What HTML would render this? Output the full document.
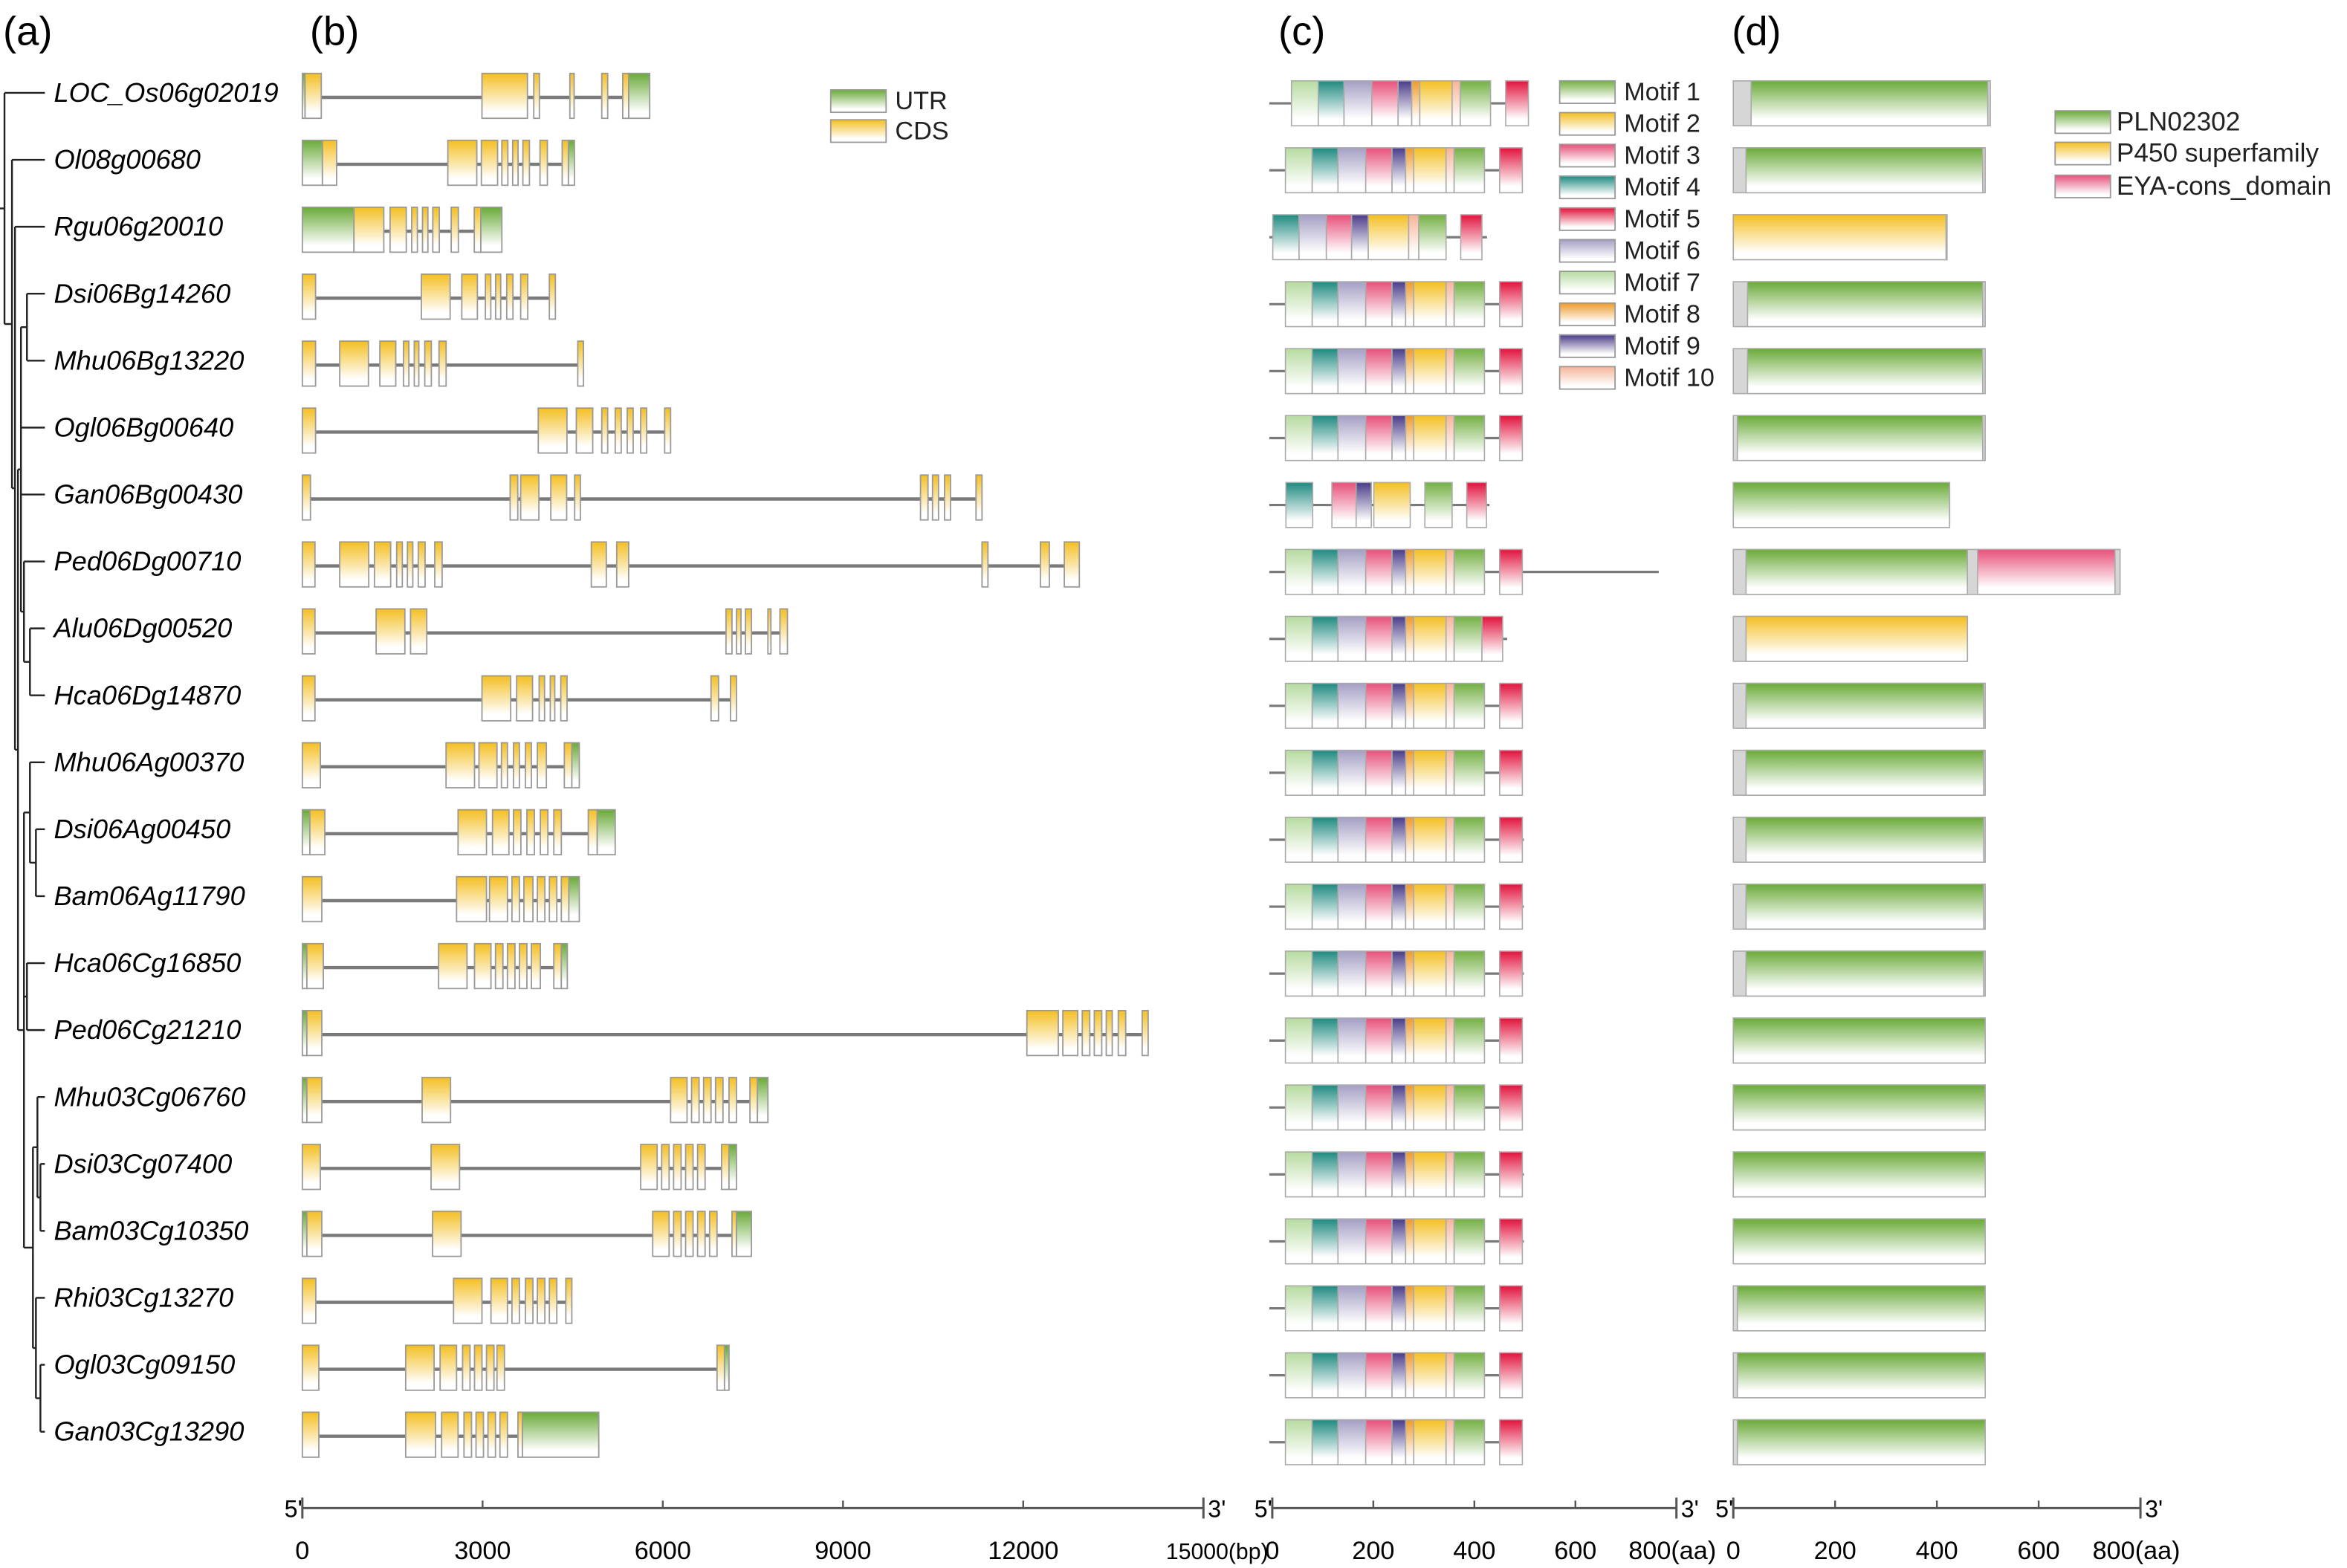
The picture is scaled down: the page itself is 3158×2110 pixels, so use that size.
<!DOCTYPE html>
<html><head><meta charset="utf-8">
<style>
html,body{margin:0;padding:0;background:#fff;}
svg{display:block;}
text{font-family:"Liberation Sans",Arial,sans-serif;}
</style></head>
<body>
<svg id="fig" xmlns="http://www.w3.org/2000/svg" width="3158" height="2110" viewBox="0 0 1568 1047" preserveAspectRatio="none">
<defs id="defs"></defs>
<g id="titles">
<text x="2" y="30" font-size="27">(a)</text>
<text x="207" y="30" font-size="27">(b)</text>
<text x="854" y="30" font-size="27">(c)</text>
<text x="1157" y="30" font-size="27">(d)</text>
</g>
<g id="tree"></g>
<g id="labels"></g>
<g id="genes"></g>
<g id="motifs"></g>
<g id="domains"></g>
<g id="legends"></g>
<g id="axes"></g>
</svg>
<script>
const geneNames=["LOC_Os06g02019","Ol08g00680","Rgu06g20010","Dsi06Bg14260","Mhu06Bg13220","Ogl06Bg00640","Gan06Bg00430","Ped06Dg00710","Alu06Dg00520","Hca06Dg14870","Mhu06Ag00370","Dsi06Ag00450","Bam06Ag11790","Hca06Cg16850","Ped06Cg21210","Mhu03Cg06760","Dsi03Cg07400","Bam03Cg10350","Rhi03Cg13270","Ogl03Cg09150","Gan03Cg13290"];
const exonData=[
[[0,45,"U"],[45,315,"C"],[2990,3747,"C"],[3852,3946,"C"],[4453,4524,"C"],[4984,5083,"C"],[5333,5433,"C"],[5433,5782,"U"]],
[[0,334,"U"],[334,570,"C"],[2422,2904,"C"],[2980,3250,"C"],[3321,3421,"C"],[3501,3591,"C"],[3671,3780,"C"],[3956,4079,"C"],[4325,4429,"C"],[4429,4529,"U"]],
[[0,859,"U"],[859,1356,"C"],[1460,1730,"C"],[1820,1915,"C"],[2000,2090,"C"],[2171,2280,"C"],[2478,2597,"C"],[2862,2971,"C"],[2971,3321,"U"]],
[[0,220,"C"],[1981,2460,"C"],[2654,2914,"C"],[3047,3137,"C"],[3217,3302,"C"],[3402,3506,"C"],[3634,3752,"C"],[4112,4212,"C"]],
[[0,220,"C"],[622,1100,"C"],[1290,1555,"C"],[1683,1773,"C"],[1863,1939,"C"],[2038,2147,"C"],[2275,2393,"C"],[4585,4680,"C"]],
[[0,220,"C"],[3927,4405,"C"],[4560,4834,"C"],[4984,5083,"C"],[5208,5308,"C"],[5408,5507,"C"],[5632,5732,"C"],[6031,6130,"C"]],
[[0,135,"C"],[3459,3586,"C"],[3634,3937,"C"],[4136,4400,"C"],[4533,4628,"C"],[10290,10415,"C"],[10490,10590,"C"],[10690,10790,"C"],[11214,11314,"C"]],
[[0,210,"C"],[622,1105,"C"],[1200,1470,"C"],[1570,1664,"C"],[1749,1839,"C"],[1929,2043,"C"],[2204,2327,"C"],[4810,5060,"C"],[5233,5432,"C"],[11314,11413,"C"],[12286,12435,"C"],[12684,12934,"C"]],
[[0,210,"C"],[1228,1707,"C"],[1801,2071,"C"],[7052,7152,"C"],[7227,7302,"C"],[7376,7476,"C"],[7750,7800,"C"],[7950,8075,"C"]],
[[0,210,"C"],[2990,3468,"C"],[3567,3832,"C"],[3942,4032,"C"],[4127,4202,"C"],[4302,4406,"C"],[6803,6928,"C"],[7127,7227,"C"]],
[[0,300,"C"],[2392,2866,"C"],[2940,3240,"C"],[3314,3414,"C"],[3514,3613,"C"],[3713,3813,"C"],[3912,4062,"C"],[4361,4486,"C"],[4486,4610,"U"]],
[[0,125,"U"],[125,374,"C"],[2592,3065,"C"],[3165,3439,"C"],[3514,3638,"C"],[3738,3863,"C"],[3962,4087,"C"],[4186,4311,"C"],[4760,4909,"C"],[4909,5208,"U"]],
[[0,324,"C"],[2567,3065,"C"],[3115,3414,"C"],[3489,3613,"C"],[3688,3838,"C"],[3912,4037,"C"],[4112,4236,"C"],[4311,4436,"C"],[4436,4610,"U"]],
[[0,75,"U"],[75,349,"C"],[2268,2741,"C"],[2866,3140,"C"],[3215,3339,"C"],[3414,3539,"C"],[3613,3738,"C"],[3813,3962,"C"],[4186,4311,"C"],[4311,4411,"U"]],
[[0,75,"U"],[75,324,"C"],[12061,12584,"C"],[12659,12908,"C"],[12983,13108,"C"],[13183,13307,"C"],[13382,13482,"C"],[13582,13706,"C"],[13980,14080,"C"]],
[[0,75,"U"],[75,324,"C"],[1994,2467,"C"],[6130,6404,"C"],[6479,6604,"C"],[6679,6803,"C"],[6878,7002,"C"],[7102,7227,"C"],[7451,7576,"C"],[7576,7750,"U"]],
[[0,299,"C"],[2143,2617,"C"],[5632,5906,"C"],[5981,6105,"C"],[6180,6305,"C"],[6380,6504,"C"],[6579,6704,"C"],[6978,7102,"C"],[7102,7227,"U"]],
[[0,75,"U"],[75,324,"C"],[2168,2642,"C"],[5832,6105,"C"],[6180,6305,"C"],[6380,6504,"C"],[6579,6704,"C"],[6779,6903,"C"],[7152,7227,"C"],[7227,7476,"U"]],
[[0,224,"C"],[2517,2990,"C"],[3140,3414,"C"],[3489,3613,"C"],[3713,3838,"C"],[3912,4037,"C"],[4112,4236,"C"],[4386,4486,"C"]],
[[0,274,"C"],[1720,2193,"C"],[2293,2567,"C"],[2667,2791,"C"],[2866,2990,"C"],[3065,3190,"C"],[3240,3364,"C"],[6903,7027,"C"],[7027,7102,"U"]],
[[0,274,"C"],[1720,2218,"C"],[2318,2592,"C"],[2691,2816,"C"],[2891,3015,"C"],[3090,3215,"C"],[3289,3414,"C"],[3589,3663,"C"],[3663,4934,"U"]]
];
const motifStd=[[7,26,79],[4,79,130],[6,130,185],[3,185,237],[9,237,264],[8,264,280],[2,280,344],[10,344,360],[1,360,420],[5,450,495]];
const motifOffset=[12,0,0,0,0,0,0,0,0,0,0,0,0,0,0,0,0,0,0,0,0];
const proteinLen=[505,495,425,495,495,495,430,765,465,495,495,498,498,498,495,495,498,498,495,495,495];
const motifCustom={
2:[[4,1,53],[6,53,107],[3,107,157],[9,157,190],[2,190,270],[10,270,290],[1,290,344],[5,373,415]],
6:[[4,27,80],[3,118,166],[9,166,196],[2,201,273],[1,302,356],[5,385,424]],
8:[[7,26,79],[4,79,130],[6,130,185],[3,185,237],[9,237,264],[8,264,280],[2,280,344],[10,344,360],[1,360,415],[5,415,456]]
};
const domainLen=[505,495,420,495,495,495,425,760,460,495,495,495,495,495,495,495,495,495,495,495,495];
const domainData=[
[[35,500,"P"]],[[25,490,"P"]],[[0,418,"X"]],[[28,490,"P"]],[[28,490,"P"]],[[8,490,"P"]],[[0,425,"P"]],
[[25,460,"P"],[480,750,"E"]],[[25,460,"X"]],[[25,492,"P"]],[[25,492,"P"]],[[25,492,"P"]],[[25,492,"P"]],[[25,492,"P"]],
[[0,495,"P"]],[[0,495,"P"]],[[0,495,"P"]],[[0,495,"P"]],[[8,495,"P"]],[[8,495,"P"]],[[8,495,"P"]]
];
const geneTicks=[0,3000,6000,9000,12000,15000];
const aaTicks=[0,200,400,600,800];

const NS="http://www.w3.org/2000/svg";
function mk(tag,attrs,parent){const e=document.createElementNS(NS,tag);for(const k in attrs)e.setAttribute(k,attrs[k]);parent.appendChild(e);return e;}
const defs=document.getElementById('defs');
const colors={U:"#6aaa38",C:"#f4bf22",1:"#74b043",2:"#f4bf22",3:"#e8507a",4:"#1e8a80",5:"#e2123c",6:"#a49fc4",7:"#b7dba0",8:"#ef9a2a",9:"#4a3b88",10:"#f6b497",P:"#6aaa38",X:"#f4bf22",E:"#e8507a",G:"#c9c9c9"};
for(const k in colors){
  const g=mk('linearGradient',{id:'g'+k,x1:0,y1:0,x2:0,y2:1},defs);
  mk('stop',{offset:'0','stop-color':colors[k]},g);
  mk('stop',{offset:'0.85','stop-color':'#ffffff'},g);
}
const rowY=i=>62+i*44.7;
const gx=bp=>202+bp*602/15000;
const mx=aa=>850+aa*270/800;
const dx=aa=>1158+aa*272/800;

const lab=document.getElementById('labels');
geneNames.forEach((n,i)=>{
  const t=mk('text',{x:36,y:rowY(i)+6,'font-size':18,'font-style':'italic'},lab);
  t.textContent=n;
  
  
});

const tree={x:3,c:[0,{x:8,c:[1,{x:10,c:[2,{x:12,c:[
 {x:14,c:[{x:18,c:[3,4]},5,6,{x:16,c:[7,{x:20,c:[8,9]}]}]},
 {x:16,c:[{x:20,c:[10,{x:24,c:[11,12]}]},{x:18,c:[13,14]},{x:22,c:[{x:25,c:[15,{x:27,c:[16,17]}]},{x:24,c:[18,{x:27,c:[19,20]}]}]}]}
]}]}]}]};
const tg=document.getElementById('tree');
function drawNode(n){
  const ys=n.c.map(ch=>{
    if(typeof ch==='number'){mk('line',{x1:n.x,y1:rowY(ch),x2:30,y2:rowY(ch),stroke:'#222','stroke-width':1.2},tg);return rowY(ch);}
    const y=drawNode(ch);mk('line',{x1:n.x,y1:y,x2:ch.x,y2:y,stroke:'#222','stroke-width':1.2},tg);return y;
  });
  mk('line',{x1:n.x,y1:ys[0],x2:n.x,y2:ys[ys.length-1],stroke:'#222','stroke-width':1.2},tg);
  return (ys[0]+ys[ys.length-1])/2;
}
const ry=drawNode(tree);
mk('line',{x1:0,y1:ry,x2:3,y2:ry,stroke:'#222','stroke-width':1.2},tg);

const gg=document.getElementById('genes');
exonData.forEach((ex,i)=>{
  const cy=rowY(i)+1;
  const end=Math.max(...ex.map(e=>e[1]));
  const l=mk('line',{x1:gx(0),y1:cy+2,x2:gx(end),y2:cy+2,stroke:'#7a7a7a','stroke-width':2.2},gg);
  
  
  ex.forEach(e=>{
    const r=mk('rect',{x:gx(e[0]),y:cy-14,width:Math.max(gx(e[1])-gx(e[0]),1.5),height:30,fill:'url(#g'+e[2]+')',stroke:'#9a9a9a','stroke-width':0.9},gg);
    
    
  });
});

const mg=document.getElementById('motifs');
proteinLen.forEach((len,i)=>{
  const cy=rowY(i)+7;
  mk('line',{x1:mx(0)-2,y1:cy,x2:mx(len),y2:cy,stroke:'#7a7a7a','stroke-width':1.6},mg);
  const list=motifCustom[i]||motifStd.map(m=>[m[0],m[1]+motifOffset[i],m[2]+motifOffset[i]]);
  list.forEach(m=>{
    const r=mk('rect',{x:mx(m[1]),y:cy-15,width:mx(m[2])-mx(m[1]),height:30,fill:'url(#g'+m[0]+')',stroke:'#aaa','stroke-width':0.8},mg);
    
    
  });
});

const dg=document.getElementById('domains');
domainLen.forEach((len,i)=>{
  const cy=rowY(i)+7;
  const b=mk('rect',{x:dx(0),y:cy-15,width:dx(len)-dx(0),height:30,fill:'#d6d6d6',stroke:'#aaa','stroke-width':0.8},dg);
  
  
  domainData[i].forEach(d=>{
    const r=mk('rect',{x:dx(d[0]),y:cy-15,width:dx(d[1])-dx(d[0]),height:30,fill:'url(#g'+d[2]+')',stroke:'#aaa','stroke-width':0.8},dg);
    
    
  });
});

const lg=document.getElementById('legends');
function legend(x,y,key,label,tx,fs){
  const g=mk('g',{},lg);
  
  
  mk('rect',{x:x,y:y,width:37,height:15,fill:'url(#g'+key+')',stroke:'#999','stroke-width':0.9},g);
  const t=mk('text',{x:tx,y:y+13,'font-size':fs,fill:'#222'},g);t.textContent=label;
}
legend(555,60,'U','UTR',598,17);legend(555,80,'C','CDS',598,17);
for(let k=1;k<=10;k++)legend(1042,54+(k-1)*21.2,k,'Motif '+k,1085,17);
legend(1373,74,'P','PLN02302',1414,17.5);legend(1373,95,'X','P450 superfamily',1414,17.5);legend(1373,117,'E','EYA-cons_domain',1414,17.5);

const ag=document.getElementById('axes');
function axis(x0,x1,ticks,fn,unit,name,lastShift,lastFs){
  const g=mk('g',{},ag);
  
  
  mk('line',{x1:x0,y1:1007,x2:x1,y2:1007,stroke:'#555','stroke-width':1.5},g);
  mk('line',{x1:x0,y1:1000,x2:x0,y2:1014,stroke:'#555','stroke-width':1.5},g);
  mk('line',{x1:x1,y1:1000,x2:x1,y2:1014,stroke:'#555','stroke-width':1.5},g);
  let t=mk('text',{x:x0-12,y:1013,'font-size':16},g);t.textContent="5'";
  t=mk('text',{x:x1+3,y:1013,'font-size':16},g);t.textContent="3'";
  ticks.forEach((v,j)=>{
    const x=fn(v);
    mk('line',{x1:x,y1:1007,x2:x,y2:1002,stroke:'#555','stroke-width':1.2},g);
    const last=j===ticks.length-1;
    const tt=mk('text',{x:last?x-lastShift:x,y:1041,'font-size':last?lastFs:17,'text-anchor':last?'start':'middle'},g);
    tt.textContent=v+(last?unit:'');
    
    
  });
}
axis(gx(0),gx(15000),geneTicks,gx,'(bp)','gene-length-axis',25,15);
axis(mx(0),mx(800),aaTicks,mx,'(aa)','motif-aa-axis',32,17);
axis(dx(0),dx(800),aaTicks,dx,'(aa)','domain-aa-axis',32,17);
</script>
</body></html>
